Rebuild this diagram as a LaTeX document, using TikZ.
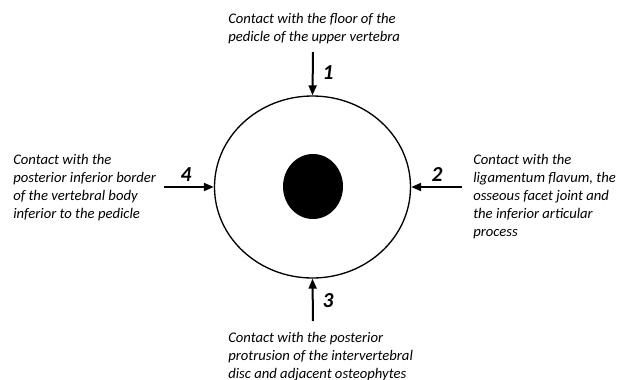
\documentclass[tikz,border=0pt]{standalone}
\usepackage{fontspec}
\setmainfont{Carlito}
\usetikzlibrary{shapes.geometric,arrows.meta}
\tikzset{
  canal/.style = {ellipse, draw, line width=1pt, inner sep=0pt,
                  minimum width=147pt, minimum height=136.5pt},
  cord/.style  = {ellipse, fill=black, inner sep=0pt,
                  minimum width=45pt, minimum height=48.75pt},
  push/.style  = {-{Triangle[length=7.5pt,width=6pt]}, line width=1.5pt},
  num/.style   = {font=\fontsize{16}{16}\selectfont\bfseries\itshape, inner sep=0pt},
  note/.style  = {align=left, inner sep=0pt, anchor=base west,
                  font=\fontsize{11}{13.5}\selectfont\itshape},
}
\begin{document}
\begin{tikzpicture}[x=0.75pt, y=-0.75pt]
\useasboundingbox (0,0) rectangle (618,379);
\node[canal] (canal) at (312.5,187) {};
\node[cord] (cord) at (313,186.5) {};

\coordinate (s1) at (313,52);
\coordinate (s2) at (462,187);
\coordinate (s3) at (313,321);
\coordinate (s4) at (164,187);
\draw[push] (s1) -- (canal.north);
\draw[push] (s2) -- (canal.east);
\draw[push] (s3) -- (canal.south);
\draw[push] (s4) -- (canal.west);

\node[num] (n1) at (328,73) {1};
\node[num] (n2) at (437,175) {2};
\node[num] (n3) at (328,301) {3};
\node[num] (n4) at (186,175) {4};

% anchors sit on the last line's baseline
\node[note] (t1) at (228,41) {Contact with the floor of the\\pedicle of the upper vertebra};
\node[note] (t2) at (473,236) {Contact with the\\ligamentum flavum, the\\osseous facet joint and\\the inferior articular\\process};
\node[note] (t3) at (228,378) {Contact with the posterior\\protrusion of the intervertebral\\disc and adjacent osteophytes};
\node[note] (t4) at (13,218) {Contact with the\\posterior inferior border\\of the vertebral body\\inferior to the pedicle};
\end{tikzpicture}
\end{document}
